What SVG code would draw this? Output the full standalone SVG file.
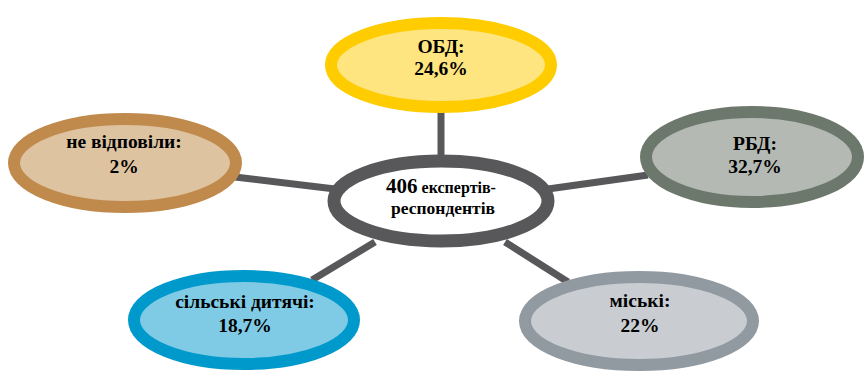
<svg xmlns="http://www.w3.org/2000/svg" width="868" height="373" viewBox="0 0 868 373">
<style>
.lbl{font-family:'Liberation Serif','Times New Roman',serif;font-weight:bold;font-size:19.5px;fill:#000;text-anchor:middle}
.big{font-size:21px}
.mid{font-size:16px}
.sm{font-size:17.5px}
.conn{stroke:#58585A;stroke-width:7;fill:none}
</style>
<rect width="868" height="373" fill="#fff"/>
<g id="connectors">
<line class="conn" x1="441" y1="110" x2="441" y2="165"/>
<line class="conn" x1="235" y1="177" x2="335" y2="189"/>
<line class="conn" x1="548" y1="189" x2="648" y2="175"/>
<line class="conn" x1="375" y1="242" x2="312" y2="280"/>
<line class="conn" x1="505" y1="242" x2="568" y2="282"/>
</g>
<g id="center">
<ellipse cx="441" cy="201" rx="107" ry="40" fill="#fff" stroke="#58585A" stroke-width="13"/>
<text class="lbl" x="441" y="193"><tspan class="big">406</tspan><tspan class="mid"> експертів-</tspan></text>
<text class="lbl sm" x="443" y="214">респондентів</text>
</g>
<g id="obd">
<ellipse cx="441" cy="65" rx="110" ry="42" fill="#FFE57F" stroke="#FFCC00" stroke-width="12"/>
<text class="lbl" x="441" y="53">ОБД:</text>
<text class="lbl" x="441" y="75">24,6%</text>
</g>
<g id="rbd">
<ellipse cx="752" cy="157" rx="106" ry="45" fill="#B4B9B3" stroke="#6D786D" stroke-width="12"/>
<text class="lbl" x="755" y="150">РБД:</text>
<text class="lbl" x="755" y="173">32,7%</text>
</g>
<g id="no-answer">
<ellipse cx="125" cy="163" rx="111" ry="44" fill="#DEC3A1" stroke="#BF8A4B" stroke-width="12"/>
<text class="lbl" x="124" y="148">не відповіли:</text>
<text class="lbl" x="124" y="173">2%</text>
</g>
<g id="rural">
<ellipse cx="244" cy="320" rx="110" ry="44" fill="#7FCBE6" stroke="#0099CC" stroke-width="12"/>
<text class="lbl" x="245" y="308">сільські дитячі:</text>
<text class="lbl" x="245" y="332">18,7%</text>
</g>
<g id="urban">
<ellipse cx="639" cy="321" rx="114" ry="44" fill="#C9CDD2" stroke="#9199A1" stroke-width="12"/>
<text class="lbl" x="640" y="307">міські:</text>
<text class="lbl" x="640" y="332">22%</text>
</g>
</svg>
